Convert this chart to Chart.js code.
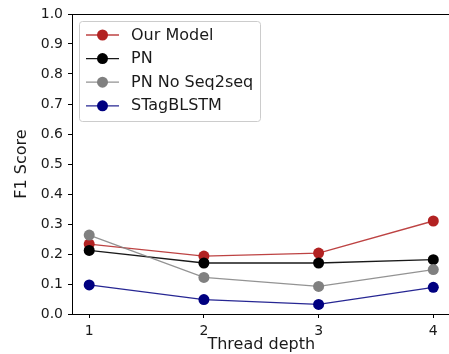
<!DOCTYPE html>
<html>
<head>
<meta charset="utf-8">
<script src="https://cdn.jsdelivr.net/npm/chart.js@4/dist/chart.umd.min.js"></script>
<style>
  html, body { margin: 0; padding: 0; background: #fff; overflow: hidden; }
  #wrap { width: 449px; height: 354px; overflow: hidden; }
</style>
</head>
<body>
<div id="wrap"><canvas id="f1Chart" width="456" height="354"></canvas></div>
<script>
// thread depths on the x axis
const depths = [1, 2, 3, 4];
const yTicks = [0, 0.1, 0.2, 0.3, 0.4, 0.5, 0.6, 0.7, 0.8, 0.9, 1.0];

const seriesNames = ['Our Model', 'PN', 'PN No Seq2seq', 'STagBLSTM'];
const ourModel = [0.233, 0.193, 0.203, 0.310];
const pn = [0.212, 0.170, 0.170, 0.181];
const pnNoSeq2seq = [0.263, 0.122, 0.092, 0.148];
const stagBlstm = [0.097, 0.048, 0.032, 0.089];

const lineColors = ['rgba(178,34,34,0.85)', 'rgba(0,0,0,0.9)', 'rgba(128,128,128,0.85)', 'rgba(0,0,128,0.85)'];
const markerColors = ['#b22222', '#000000', '#808080', '#000080'];

const allValues = [ourModel, pn, pnNoSeq2seq, stagBlstm];
const FONT = "'DejaVu Sans', sans-serif";

// legend drawn inside the plot, like matplotlib's upper-left legend
const innerLegend = {
    id: 'innerLegend',
    afterDraw(chart) {
        const ctx = chart.ctx;
        const x0 = 79.5, y0 = 21.5, w = 181, h = 100, r = 3;
        ctx.save();
        ctx.beginPath();
        ctx.roundRect(x0, y0, w, h, r);
        ctx.fillStyle = 'rgba(255,255,255,0.8)';
        ctx.fill();
        ctx.strokeStyle = '#cccccc';
        ctx.lineWidth = 1;
        ctx.stroke();

        chart.data.datasets.forEach((ds, i) => {
            const y = 35 + i * 23.6;
            ctx.beginPath();
            ctx.moveTo(86, y);
            ctx.lineTo(119, y);
            ctx.strokeStyle = ds.borderColor;
            ctx.lineWidth = 1.3;
            ctx.stroke();
            ctx.beginPath();
            ctx.arc(102.5, y, 5.5, 0, Math.PI * 2);
            ctx.fillStyle = ds.pointBackgroundColor;
            ctx.fill();
            ctx.fillStyle = '#1a1a1a';
            ctx.font = '16px ' + FONT;
            ctx.textBaseline = 'middle';
            ctx.textAlign = 'left';
            ctx.fillText(ds.label, 131, y + 0.5);
        });
        ctx.restore();
    }
};

const datasets = seriesNames.map((name, i) => ({
    label: name,
    data: depths.map((d, j) => ({ x: d, y: allValues[i][j] })),
    borderColor: lineColors[i],
    borderWidth: 1.3,
    pointBackgroundColor: markerColors[i],
    pointBorderWidth: 0,
    pointRadius: 5.5,
    pointHoverRadius: 5.5,
    tension: 0,
    fill: false,
    order: seriesNames.length - 1 - i
}));

new Chart(document.getElementById('f1Chart'), {
    type: 'line',
    data: { datasets: datasets },
    options: {
        responsive: false,
        animation: false,
        devicePixelRatio: 1,
        layout: { padding: { left: 0, top: 14, right: 2, bottom: 0 } },
        plugins: {
            legend: { display: false },
            tooltip: { enabled: false }
        },
        scales: {
            x: {
                type: 'linear',
                min: 0.85,
                max: 4.15,
                afterBuildTicks: (scale) => { scale.ticks = depths.map(v => ({ value: v })); },
                afterFit: (scale) => { scale.height = 40; },
                ticks: {
                    color: '#1a1a1a',
                    font: { family: FONT, size: 14 },
                    padding: 5,
                    maxRotation: 0,
                    callback: (v) => String(v)
                },
                grid: { display: true, drawOnChartArea: false, drawTicks: true, tickLength: 4, color: '#000' },
                border: { display: true, color: '#000', width: 1 },
                title: {
                    display: true,
                    text: 'Thread depth',
                    color: '#1a1a1a',
                    font: { family: FONT, size: 16 },
                    padding: { top: 0, bottom: 0 }
                }
            },
            xTop: {
                type: 'linear',
                position: 'top',
                min: 0.85,
                max: 4.15,
                afterFit: (scale) => { scale.height = 0; },
                ticks: { display: false },
                grid: { display: false },
                border: { display: true, color: '#000', width: 1 }
            },
            y: {
                min: 0,
                max: 1,
                afterBuildTicks: (scale) => { scale.ticks = yTicks.map(v => ({ value: v })); },
                afterFit: (scale) => { scale.width = 72; },
                ticks: {
                    color: '#1a1a1a',
                    font: { family: FONT, size: 14 },
                    padding: 5,
                    callback: (v) => v.toFixed(1)
                },
                grid: { display: true, drawOnChartArea: false, drawTicks: true, tickLength: 4, color: '#000' },
                border: { display: true, color: '#000', width: 1 },
                title: {
                    display: true,
                    text: 'F1 Score',
                    color: '#1a1a1a',
                    font: { family: FONT, size: 16 },
                    padding: { top: 12, bottom: 0 }
                }
            }
        }
    },
    plugins: [innerLegend]
});
</script>
</body>
</html>
